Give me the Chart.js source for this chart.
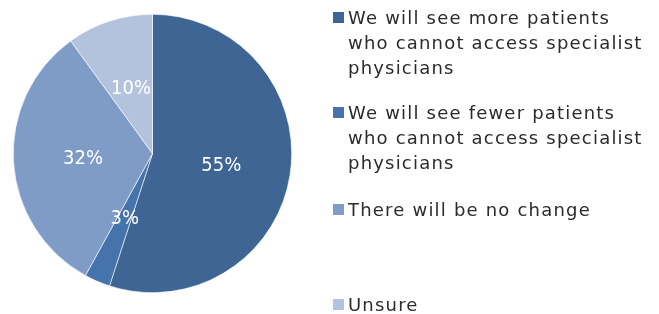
<!DOCTYPE html>
<html>
<head>
<meta charset="utf-8">
<script src="https://cdn.jsdelivr.net/npm/chart.js@4"></script>
<style>
  body { margin: 0; background: #fff; }
  #wrap { position: relative; width: 659px; height: 314px; }
  #legend { position: absolute; left: 0; top: 0; font-family: "DejaVu Sans", Verdana, sans-serif; font-size: 18px; letter-spacing: 1.2px; color: #2b2b2b; }
  .item { position: absolute; left: 348px; line-height: 25px; white-space: nowrap; }
  .box { position: absolute; left: -15px; top: 7px; width: 11px; height: 11px; }
</style>
</head>
<body>
<div id="wrap">
  <canvas id="pieChart" width="659" height="314"></canvas>
  <div id="legend"></div>
</div>
<script>
// Datos del gráfico
const labels = [
    ['We will see more patients', 'who cannot access specialist', 'physicians'],
    ['We will see fewer patients', 'who cannot access specialist', 'physicians'],
    ['There will be no change'],
    ['Unsure']
];
const values = [55, 3, 32, 10];
const colors = ['#3e6594', '#4673ab', '#7f9cc7', '#b4c3dd'];
const legendTops = [5, 100, 197, 292];

// Etiquetas de porcentaje dentro de cada sector
const sliceLabels = {
    id: 'sliceLabels',
    afterDatasetsDraw(chart) {
        const ctx = chart.ctx;
        const meta = chart.getDatasetMeta(0);
        ctx.save();
        ctx.fillStyle = '#ffffff';
        ctx.font = '20px "DejaVu Sans Condensed", "DejaVu Sans", sans-serif';
        ctx.textAlign = 'center';
        ctx.textBaseline = 'middle';
        meta.data.forEach((arc, i) => {
            const p = arc.tooltipPosition();
            ctx.fillText(values[i] + '%', p.x, p.y + 1);
        });
        ctx.restore();
    }
};

new Chart(document.getElementById('pieChart').getContext('2d'), {
    type: 'pie',
    data: {
        labels: labels.map(l => l.join(' ')),
        datasets: [{
            data: values,
            backgroundColor: colors,
            borderColor: '#ffffff',
            borderWidth: 0.6
        }]
    },
    options: {
        responsive: false,
        animation: false,
        layout: { padding: { left: 13, right: 367, top: 14, bottom: 21 } },
        plugins: {
            legend: { display: false },
            tooltip: { enabled: false }
        }
    },
    plugins: [sliceLabels]
});

// Leyenda
const legend = document.getElementById('legend');
labels.forEach((lines, i) => {
    const item = document.createElement('div');
    item.className = 'item';
    item.style.top = legendTops[i] + 'px';
    item.innerHTML = '<span class="box" style="background:' + colors[i] + '"></span>' + lines.join('<br>');
    legend.appendChild(item);
});
</script>
</body>
</html>
